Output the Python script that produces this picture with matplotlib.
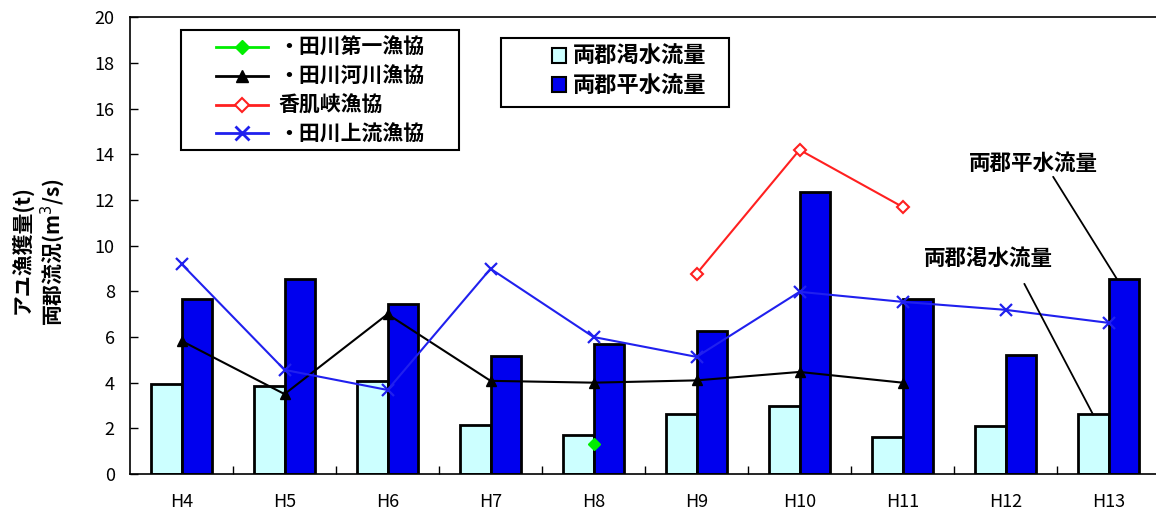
import numpy as np
import matplotlib.pyplot as plt
from matplotlib.patches import Patch, Rectangle
from matplotlib.lines import Line2D

plt.rcParams["font.family"] = ["Noto Sans CJK JP", "DejaVu Sans"]

years = ["H4", "H5", "H6", "H7", "H8", "H9", "H10", "H11", "H12", "H13"]
low_flow = [3.95, 3.86, 4.08, 2.15, 1.71, 2.63, 2.98, 1.62, 2.08, 2.63]
mean_flow = [7.68, 8.55, 7.46, 5.15, 5.7, 6.25, 12.37, 7.68, 5.2, 8.55]

daiichi = [np.nan, np.nan, np.nan, np.nan, 1.3, np.nan, np.nan, np.nan, np.nan, np.nan]
kasen = [5.83, 3.5, 7.0, 4.08, 4.0, 4.1, 4.47, 4.0, np.nan, np.nan]
kohada = [np.nan, np.nan, np.nan, np.nan, np.nan, 8.77, 14.2, 11.7, np.nan, np.nan]
joryu = [9.2, 4.56, 3.68, 8.99, 6.0, 5.13, 7.98, 7.54, 7.19, 6.62]

W, H = 1156, 520
x = np.arange(len(years))
w = 0.3

fig = plt.figure(figsize=(W / 100, H / 100), dpi=100)
ax = fig.add_axes([0.1125, 0.0885, 0.891, 0.878])

ax.bar(x - w / 2, low_flow, w, color="#ccffff", edgecolor="black", linewidth=2, zorder=2)
ax.bar(x + w / 2, mean_flow, w, color="#0000ee", edgecolor="black", linewidth=2, zorder=2)

ax.plot(x, daiichi, color="#00ee00", marker="D", markersize=6, lw=1.5, zorder=3)
ax.plot(x, kasen, color="black", marker="^", markersize=7, lw=1.5, zorder=3)
ax.plot(x, kohada, color="#ff2020", marker="D", markersize=6, mfc="white",
        mew=1.5, lw=1.5, zorder=3)
ax.plot(x, joryu, color="#2020ee", marker="x", markersize=9, mew=1.6, lw=1.5, zorder=3)

ax.set_xlim(-0.5, 9.5)
ax.set_ylim(0, 20)
ax.set_yticks(range(0, 21, 2))
ax.tick_params(axis="y", labelsize=13, length=6, width=1, direction="in", pad=11)
ax.set_xticks(x)
ax.set_xticklabels(years, fontsize=13)
ax.tick_params(axis="x", length=0, pad=14)
ax.set_xticks(np.arange(0.5, 9.5, 1), minor=True)
ax.tick_params(axis="x", which="minor", direction="in", length=6, width=1)
ax.spines["right"].set_visible(False)
for s in ["left", "bottom", "top"]:
    ax.spines[s].set_linewidth(1.2)

fig.text(0.019, 0.521, "アユ漁獲量(t)", rotation=90, ha="center", va="center",
         fontsize=15, fontweight="bold")
fig.text(0.046, 0.515, "両郡流況(m$^3$/s)", rotation=90, ha="center", va="center",
         fontsize=15, fontweight="bold")

# legend boxes
ax.add_patch(Rectangle((181 / W, 1 - 150 / H), 278 / W, 120 / H, transform=fig.transFigure,
                       facecolor="white", edgecolor="black", lw=1.5, zorder=4, clip_on=False))
ax.add_patch(Rectangle((501 / W, 1 - 107 / H), 228 / W, 69 / H, transform=fig.transFigure,
                       facecolor="white", edgecolor="black", lw=1.5, zorder=4, clip_on=False))

h1 = [
    Line2D([], [], color="#00ee00", marker="D", markersize=7, lw=2),
    Line2D([], [], color="black", marker="^", markersize=8, lw=2),
    Line2D([], [], color="#ff2020", marker="D", markersize=7, mfc="white", mew=1.5, lw=2),
    Line2D([], [], color="#2020ee", marker="x", markersize=10, mew=2, lw=2),
]
l1 = ["・田川第一漁協", "・田川河川漁協", "香肌峡漁協", "・田川上流漁協"]
leg1 = ax.legend(h1, l1, loc="upper left", bbox_to_anchor=(216 / W, 1 - 37 / H),
                 bbox_transform=fig.transFigure, handlelength=2.5,
                 prop={"size": 15, "weight": "bold"}, frameon=False,
                 borderaxespad=0, labelspacing=0.38, borderpad=0, handletextpad=0.5)
leg1.set_zorder(5)
ax.add_artist(leg1)

h2 = [Patch(facecolor="#ccffff", edgecolor="black", lw=1.5),
      Patch(facecolor="#0000ee", edgecolor="black", lw=1.5)]
l2 = ["両郡渇水流量", "両郡平水流量"]
leg2 = ax.legend(h2, l2, loc="upper left", bbox_to_anchor=(552 / W, 1 - 45 / H),
                 bbox_transform=fig.transFigure, handlelength=0.65,
                 handleheight=0.65, prop={"size": 16, "weight": "bold"}, frameon=False,
                 borderaxespad=0, labelspacing=0.3, borderpad=0, handletextpad=0.3)
leg2.set_zorder(5)

# annotations
ax.annotate("両郡平水流量", xy=(9.08, 8.55), xytext=(8.27, 13.6), fontsize=15.5,
            fontweight="bold", ha="center", va="center",
            arrowprops=dict(arrowstyle="-", color="black", lw=1.3,
                            shrinkA=0, shrinkB=0, relpos=(0.64, 0.0)))
ax.annotate("両郡渇水流量", xy=(8.85, 2.6), xytext=(7.83, 9.45), fontsize=15.5,
            fontweight="bold", ha="center", va="center",
            arrowprops=dict(arrowstyle="-", color="black", lw=1.3,
                            shrinkA=10, shrinkB=0, relpos=(0.72, 0.0)))

fig.savefig("out.png", dpi=100)
